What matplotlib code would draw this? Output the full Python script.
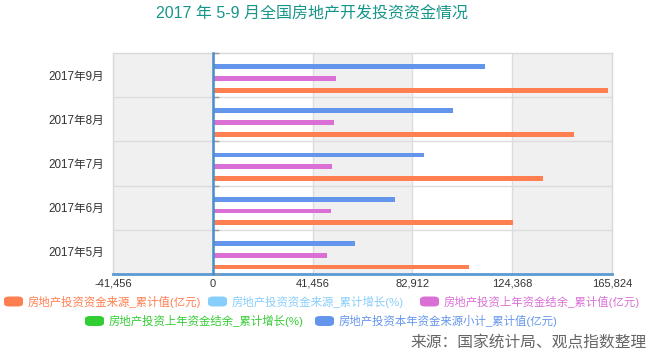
"""
2017年5-9月全国房地产开发投资资金情况 -- horizontal grouped bars.
"""

import numpy as np
import matplotlib
matplotlib.use("Agg")
import matplotlib.pyplot as plt
from matplotlib.patches import FancyBboxPatch

# Latin glyphs in an Arial-like face, CJK falls through to Noto
plt.rcParams['font.family'] = ['Liberation Sans', 'Noto Sans CJK SC', 'DejaVu Sans']

months = ["2017年5月", "2017年6月", "2017年7月", "2017年8月", "2017年9月"]
x_ticks = [-41456, 0, 41456, 82912, 124368, 165824]

# values (亿元); the two growth series show no visible bars
funds_total = [106600, 124600, 137100, 150000, 164000]
funds_growth = []
carryover_total = [47500, 48900, 49400, 50300, 51100]
carryover_growth = []
current_year_total = [59000, 75800, 87700, 99700, 113000]

series_names = [
	"房地产投资资金来源_累计值(亿元)",
	"房地产投资资金来源_累计增长(%)",
	"房地产投资上年资金结余_累计值(亿元)",
	"房地产投资上年资金结余_累计增长(%)",
	"房地产投资本年资金来源小计_累计值(亿元)",
]
series_values = [funds_total, funds_growth, carryover_total, carryover_growth, current_year_total]
colors = ["#ff7f50", "#87cefa", "#da70d6", "#32cd32", "#6495ed"]

W, H = 652, 359
fig = plt.figure(figsize=(W/100, H/100), dpi=100)
fig.patch.set_facecolor("white")
ax = fig.add_axes([113/W, 1 - 274/H, 499/W, 221/H])

# alternating background bands
ax.set_facecolor("white")
for i in range(len(x_ticks) - 1):
	if i % 2 == 0:
		ax.axvspan(x_ticks[i], x_ticks[i+1], color="#f0f0f0", zorder=0, lw=0)
for t in x_ticks[1:-1]:
	ax.axvline(t, color="#dcdcdc", lw=1, zorder=1)
for b in np.arange(len(months) - 1) + 0.5:
	ax.axhline(b, color="#dcdcdc", lw=1, zorder=1)

# bars, five slots per category, first series lowest
y = np.arange(len(months))
slot = 0.1335
first_offset = -0.342
for i, (vals, col) in enumerate(zip(series_values, colors)):
	if len(vals) == 0:
		continue
	ax.barh(y + first_offset + i*slot, vals, height=0.11, color=col, zorder=3)

ax.set_xlim(x_ticks[0], x_ticks[-1])
ax.set_ylim(-0.5, len(months) - 0.5)
ax.set_xticks(x_ticks, labels=[f"{t:,}" for t in x_ticks])
ax.set_yticks(y, labels=months)
ax.tick_params(axis="both", length=0, labelcolor="#333333")
ax.tick_params(axis="x", pad=3.5, labelsize=8.0)
ax.tick_params(axis="y", pad=6.5, labelsize=8.4)

for side in ("top", "left", "right"):
	ax.spines[side].set_color("#d8d8d8")
	ax.spines[side].set_linewidth(1)
ax.spines["bottom"].set_color("#5b9bd0")
ax.spines["bottom"].set_linewidth(2)

# category axis drawn at x = 0
zero_pos = (0 - x_ticks[0]) / (x_ticks[-1] - x_ticks[0])
yaxis0 = ax.secondary_yaxis(zero_pos)
yaxis0.set_yticks(np.arange(len(months) + 1) - 0.5, labels=[""]*(len(months) + 1))
yaxis0.tick_params(direction="in", length=4, width=1, color="#999999")
yaxis0.spines["left"].set_color("#4a8fc7")
yaxis0.spines["left"].set_linewidth(1.8)
yaxis0.set_zorder(4)

# title
fig.text(312/W, 1 - 14/H, "2017 年 5-9 月全国房地产开发投资资金情况",
	ha="center", va="center", fontsize=11.5, color="#16968a")

# legend, echarts style: rounded swatch + coloured text
legend_rows = [
	[(4, 0), (208, 1), (420, 2)],
	[(85, 3), (315, 4)],
]
row_y = [301.5, 321]
for row, yc in zip(legend_rows, row_y):
	for x0, k in row:
		fig.patches.append(FancyBboxPatch(
			(x0/W, (H - yc - 5)/H), 19/W, 10/H,
			boxstyle="round,pad=0,rounding_size=0.008",
			transform=fig.transFigure, color=colors[k], lw=0
		))
		fig.text((x0 + 24)/W, 1 - yc/H, series_names[k], ha="left", va="center",
			fontsize=8.2, color=colors[k])

# source note
fig.text(647/W, 1 - 343/H, "来源：国家统计局、观点指数整理",
	ha="right", va="center", fontsize=11.3, color="#666666")

fig.savefig("out.png", dpi=100)
